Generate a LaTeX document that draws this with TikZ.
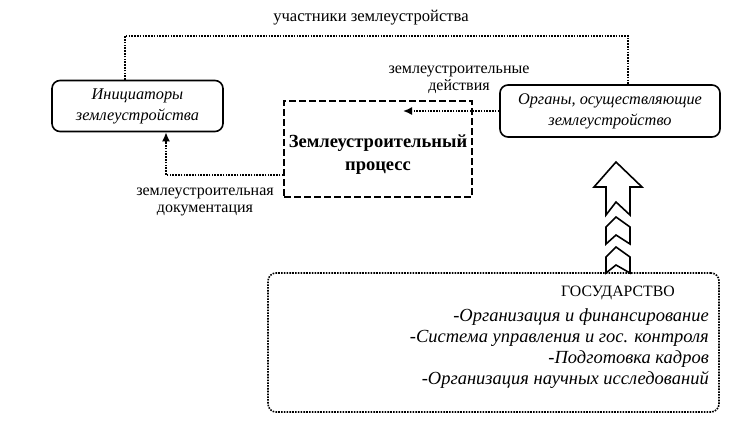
\documentclass[tikz,border=0pt]{standalone}
\usepackage{fontspec}
\setmainfont{Liberation Serif}
\usetikzlibrary{arrows.meta}

\begin{document}
\begin{tikzpicture}[x=1pt,y=-1pt]
	\tikzset{box/.style = {draw,line width=1.6pt,rounded corners=8pt,align=center,font=\fontsize{16.3}{21}\selectfont\itshape}}
	\tikzset{procbox/.style = {draw,line width=1.6pt,dash pattern=on 7pt off 3pt}}
	\tikzset{statebox/.style = {draw,line width=1.6pt,rounded corners=8pt,dash pattern=on 1.6pt off 1.2pt}}
	\tikzset{link/.style = {line width=1.6pt,dash pattern=on 1.6pt off 1.2pt}}
	\tikzset{edge/.style = {link,->,> = {Latex[length=9pt,width=8pt]}}}
	\tikzset{lbl/.style = {align=center,inner sep=0pt,font=\fontsize{16}{17}\selectfont}}
	\tikzset{bigarrow/.style = {draw,line width=1.6pt,fill=white,line join=miter}}
	\useasboundingbox (0,0) rectangle (756,437);
	% blocks
	\node[box,minimum width=171pt,minimum height=51pt] (init) at (137.5,106) {Инициаторы\\землеустройства};
	\node[box,minimum width=220pt,minimum height=52pt] (organ) at (610,111) {Органы, осуществляющие\\землеустройство};
	\node[procbox,minimum width=188pt,minimum height=96pt] (proc) at (378,149) {};
	\node[align=center,inner sep=0pt,font=\fontsize{18.5}{23}\selectfont\bfseries] (proctext) at (378,155) {Землеустроительный\\процесс};
	\node[statebox,minimum width=451pt,minimum height=139pt] (state) at (493.5,342.5) {};
	\node[inner sep=0pt,font=\fontsize{15.8}{21}\selectfont] (statename) at (618,293) {ГОСУДАРСТВО};
	\node[anchor=east,align=right,inner sep=0pt,font=\fontsize{18.5}{21}\selectfont\itshape] (statetasks) at (709,349) {-Организация и финансирование\\-Система управления и гос. контроля\\-Подготовка кадров\\-Организация научных исследований};
	% links
	\coordinate (acttip) at (403,111);
	\draw[link] ([xshift=-12.5pt]init.north) -- ++(0,-44) -| ([xshift=18pt]organ.north);
	\path[edge,draw] (organ.west) -- (acttip);
	\path[edge,draw] ([yshift=-26pt]proc.west) -| ([xshift=28.5pt]init.south);
	\node[lbl,font=\fontsize{16.6}{17}\selectfont] (lparts) at (371,18) {участники землеустройства};
	\node[lbl] (lacts) at (459,80) {землеустроительные\\действия};
	\node[lbl] (ldocs) at (205,202) {землеустроительная\\документация};
	% hollow arrow from state
	\draw[bigarrow] (616,162) -- (642,187) -- (630,187) -- (630,215) -- (616,202) -- (606,215) -- (606,187) -- (594,187) -- cycle;
	\draw[bigarrow] (616,217) -- (630,227) -- (630,244) -- (616,235) -- (606,244) -- (606,227) -- cycle;
	\draw[bigarrow] (616,247) -- (630,257) -- (630,273) -- (616,265) -- (606,273) -- (606,257) -- cycle;
\end{tikzpicture}
\end{document}
